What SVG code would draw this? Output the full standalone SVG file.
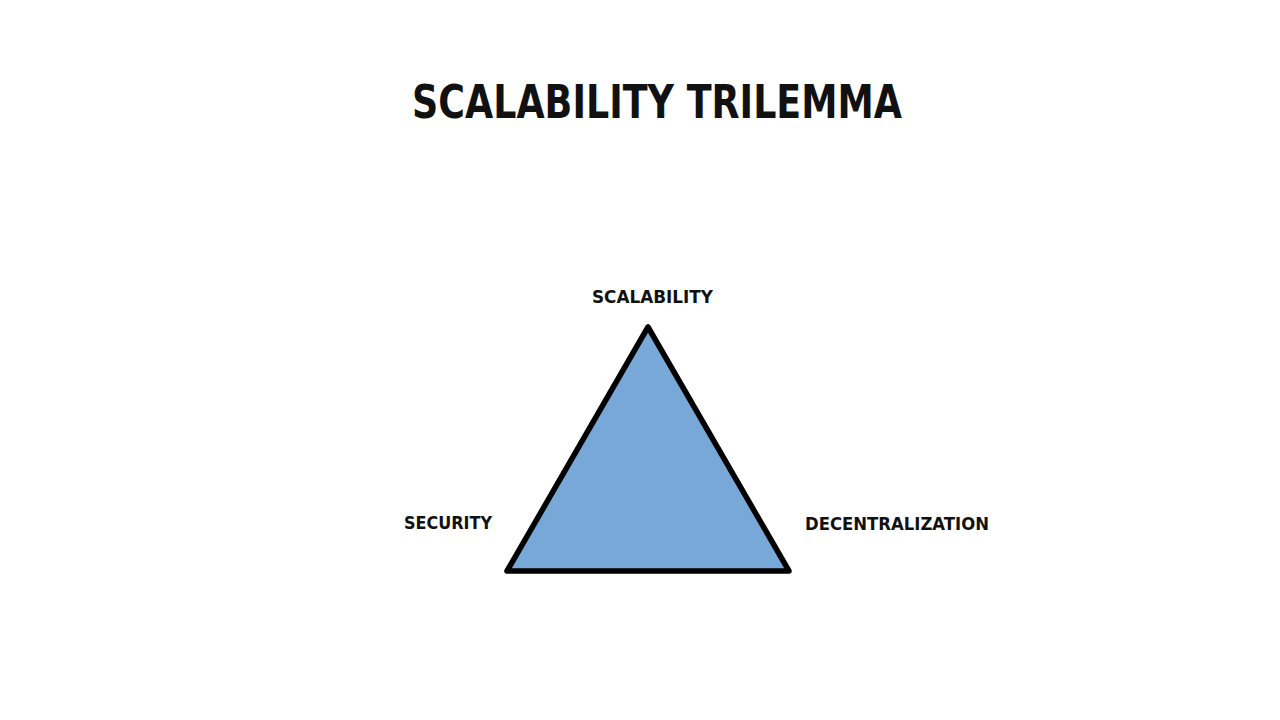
<svg xmlns="http://www.w3.org/2000/svg" width="1280" height="720" viewBox="0 0 1280 720">
<style>
.t{font-family:"DejaVu Sans","Liberation Sans",sans-serif;font-weight:bold;fill:#111;}
.lbl{font-family:"DejaVu Sans","Liberation Sans",sans-serif;font-weight:bold;fill:#111;font-size:18px;}
</style>
<rect width="1280" height="720" fill="#ffffff"/>
<g id="title"><text class="t" x="412" y="118" font-size="46" textLength="490" lengthAdjust="spacingAndGlyphs">SCALABILITY TRILEMMA</text></g>
<g id="triangle"><polygon points="648,327 507,571 789,571" fill="#77a8d8" stroke="#000" stroke-width="5.5" stroke-linejoin="round"/></g>
<g id="scalability"><text class="lbl" x="592" y="303" textLength="121" lengthAdjust="spacingAndGlyphs">SCALABILITY</text></g>
<g id="security"><text class="lbl" x="404" y="529" textLength="88" lengthAdjust="spacingAndGlyphs">SECURITY</text></g>
<g id="decentralization"><text class="lbl" x="805" y="530" textLength="184" lengthAdjust="spacingAndGlyphs">DECENTRALIZATION</text></g>
<g id="connectors"></g>
</svg>
